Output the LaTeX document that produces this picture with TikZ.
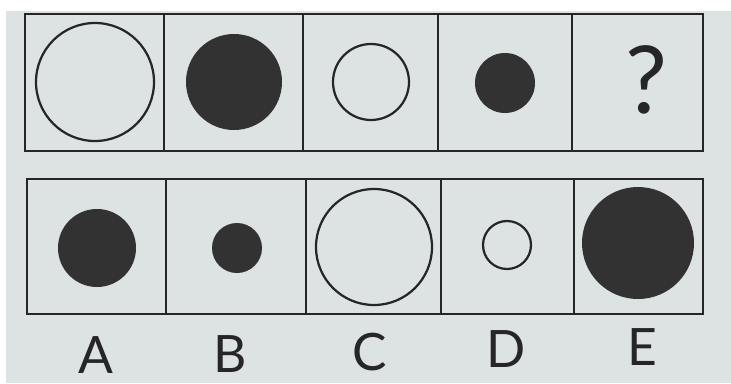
\documentclass[tikz,border=0pt]{standalone}
\usepackage{fontspec}
\setmainfont{Lato}
\definecolor{paper}{RGB}{221,226,227}
\definecolor{ink}{RGB}{38,38,38}
\definecolor{blot}{RGB}{50,50,50}
\begin{document}
\begin{tikzpicture}[x=0.03cm, y=-0.03cm, line width=2.1pt,
  cell/.style={draw=ink},
  ring/.style={draw=ink, line width=1.9pt},
  disc/.style={fill=blot},
  choice/.style={font=\fontsize{44}{44}\selectfont, text=ink}]
\useasboundingbox (0,0) rectangle (731,383);
\fill[white] (0,0) rectangle (731,383);
\fill[paper] (6,11) rectangle (731,383);
% ---- top row: the series
\draw[cell] (25,14) rectangle (703,151);
\draw[cell] (164,14) -- (164,151);
\draw[cell] (303,14) -- (303,151);
\draw[cell] (438,14) -- (438,151);
\draw[cell] (572,14) -- (572,151);
\draw[ring] (95,82) circle (59);
\fill[disc] (234,82) circle (48);
\draw[ring] (371,82) circle (38);
\fill[disc] (505,83) circle (30);
\node[font=\fontsize{80}{80}\selectfont, text=ink] (query) at (646,80) {?};
% ---- bottom row: the answers
\draw[cell] (27,179) rectangle (703,314);
\draw[cell] (166,179) -- (166,314);
\draw[cell] (306,179) -- (306,314);
\draw[cell] (441,179) -- (441,314);
\draw[cell] (574,179) -- (574,314);
\fill[disc] (97,248) circle (39);
\fill[disc] (237,248) circle (25);
\draw[ring] (374,247) circle (58);
\draw[ring] (507,245) circle (24);
\fill[disc] (638,243) circle (56);
\node[choice] (optA) at (96,355) {A};
\node[choice] (optB) at (230,354) {B};
\node[choice] (optC) at (370,352) {C};
\node[choice] (optD) at (506,349) {D};
\node[choice] (optE) at (642,347) {E};
\end{tikzpicture}
\end{document}
